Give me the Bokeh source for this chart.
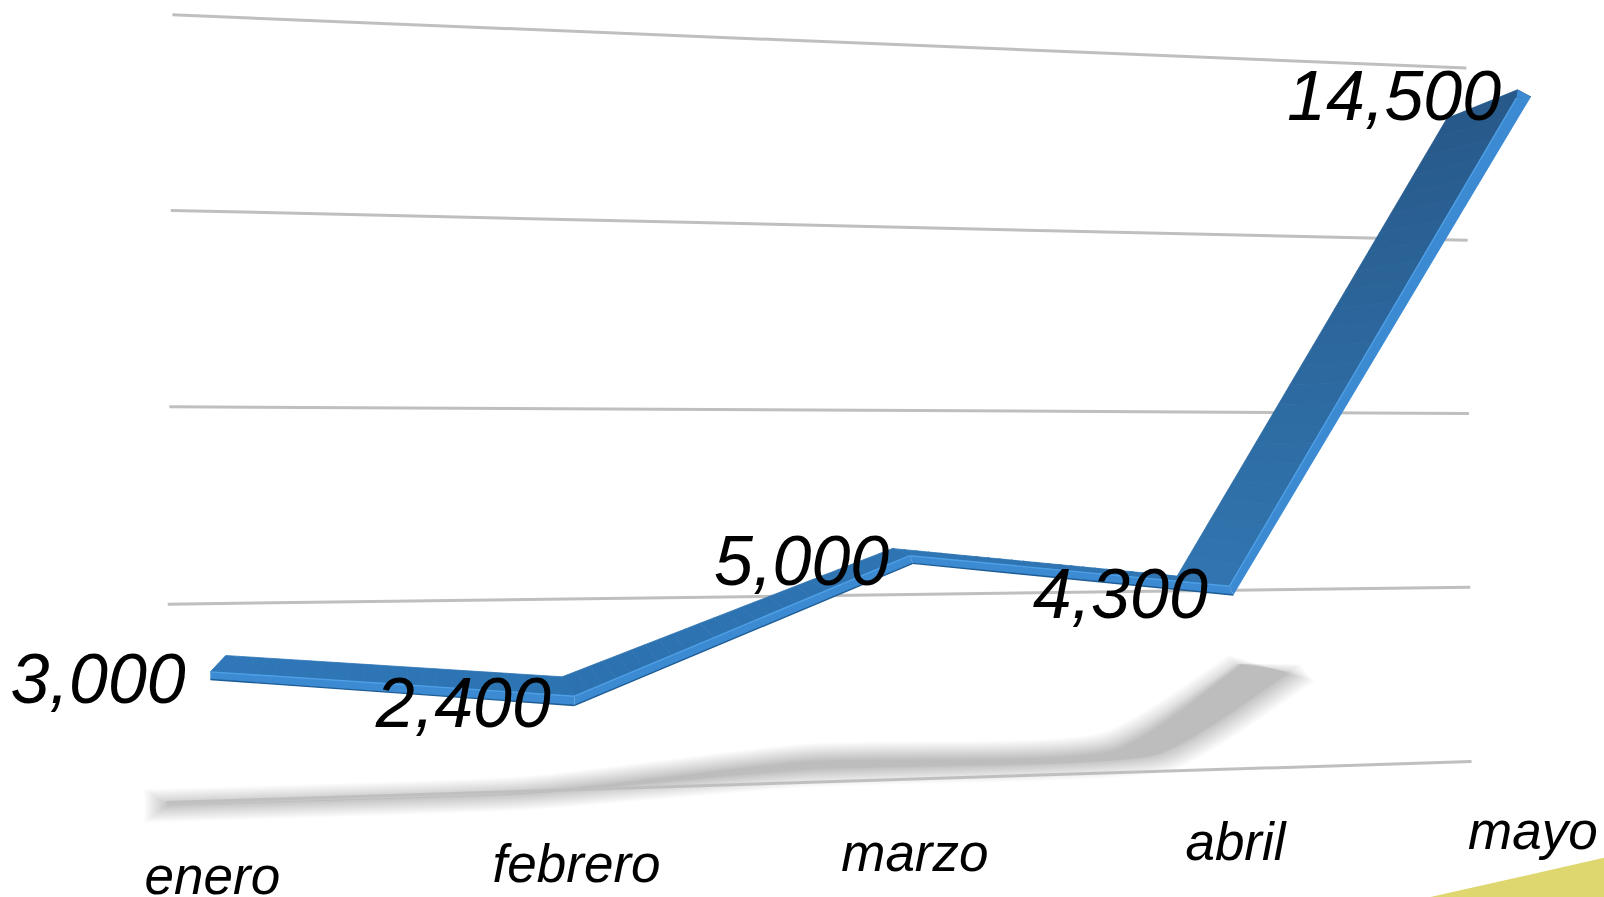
import numpy as np
from bokeh.plotting import figure
from bokeh.core.properties import value
from bokeh.embed import file_html
from bokeh.resources import INLINE

# ---- data ----
months = ["enero", "febrero", "marzo", "abril", "mayo"]
sales = [3000, 2400, 5000, 4300, 14500]
sales_labels = ["3,000", "2,400", "5,000", "4,300", "14,500"]
grid_values = [0, 4000, 8000, 12000, 16000]

# ---- camera: the corners of each perspective plane, in reference pixels (1568 wide) ----
S = 1604 / 1568
V_MAX = 16000.0


def homography(corners):
    # corners: image of (u,w) = (0,0), (1,0), (0,1), (1,1)
    src = [(0, 0), (1, 0), (0, 1), (1, 1)]
    A, b = [], []
    for (u, w), (x, y) in zip(src, corners):
        A.append([u, w, 1, 0, 0, 0, -u * x, -w * x]); b.append(x)
        A.append([0, 0, 0, u, w, 1, -u * y, -w * y]); b.append(y)
    h = np.linalg.solve(np.array(A, float), np.array(b, float))
    H = np.append(h, 1).reshape(3, 3)

    def f(u, w):
        q = H @ np.array([u, w, 1.0])
        return np.array([q[0] / q[2], q[1] / q[2]])
    return f


wall = homography([(162, 784), (1438, 744), (168, 14), (1433, 66)])
front = homography([(204, 818), (1501, 769), (210, -43), (1495.5, 25)])
floor = homography([(186, 803), (1432, 777), (-7.6, 657), (1238, 631)])

O = np.array([front(i / 4, v / V_MAX) for i, v in enumerate(sales)])
O = O + np.array([(0, 0), (-4.5, 0), (-8, 0), (-5, 0), (0, 0)], float)
F = np.array([floor(i / 4, v / V_MAX) for i, v in enumerate(sales)])

# ribbon extrusion, per month, relative to the front edge
back_off = np.array([(15, -15), (-12, -18), (-20, -5), (-55, -9), (-82, 21)], float)
inner_off = np.array([(0, 1), (0, 1), (-3, 2), (-4, 1), (-14, 1)], float)
bottom_off = np.array([(0, 8.5), (0, 10), (0, 9.5), (0, 9.5), (0, 0)], float)
tip_off = np.array([-13, -7], float)

BK, IN, BT = O + back_off, O + inner_off, O + bottom_off

p = figure(width=1604, height=897, x_range=(0, 1604), y_range=(897, 0),
           output_backend="svg", toolbar_location=None, min_border=0,
           outline_line_color=None, background_fill_color="white")
p.axis.visible = False
p.grid.visible = False
p.styles = {"position": "fixed", "left": "0px", "top": "0px"}


def poly(pts, color, alpha=1.0, seam=False):
    a = np.array(pts) * S
    p.patch(a[:, 0], a[:, 1], fill_color=color, fill_alpha=alpha,
            line_color=color if seam else None, line_width=0.8)


def mix(c1, c2, t):
    a = [int(c1[k:k + 2], 16) for k in (1, 3, 5)]
    b = [int(c2[k:k + 2], 16) for k in (1, 3, 5)]
    return "#%02x%02x%02x" % tuple(int(round(x + (y - x) * t)) for x, y in zip(a, b))


# ---- yellow corner ----
poly([(1395, 877), (1568, 838), (1568, 877)], "#ded66e")

# ---- soft floor shadow, stacked translucent layers ----
sh_shift = np.array([(3, 11), (42, 2), (41, 3), (37, 0), (-19, 4)], float)
C = F + sh_shift
up = np.array([(0, -7), (0, -8), (0, -14), (-20, -12), (-30, 0)], float)
lo = np.array([(0, 8), (0, 7), (0, 12), (35, 7), (41, 8)], float)


def rounded(a, r=28.0, n=3):
    # cut every inner corner at a fixed distance, then smooth the cuts
    pts = [a[0]]
    for k in range(1, len(a) - 1):
        d0 = a[k - 1] - a[k]; d1 = a[k + 1] - a[k]
        pts.append(a[k] + d0 / np.hypot(*d0) * min(r, np.hypot(*d0) * .45))
        pts.append(a[k] + d1 / np.hypot(*d1) * min(r, np.hypot(*d1) * .45))
    pts.append(a[-1])
    a = np.array(pts)
    for _ in range(n):
        q = a[:-1] * .75 + a[1:] * .25
        s = a[:-1] * .25 + a[1:] * .75
        a = np.vstack([a[:1], np.column_stack([q, s]).reshape(-1, 2), a[-1:]])
    return a


for e in np.linspace(9, -9, 22):
    u = up.copy(); l = lo.copy()
    u[:, 1] = np.minimum(u[:, 1] - e, -.5)
    l[:, 1] = np.maximum(l[:, 1] + e, .5)
    u[3:, 0] -= e * .8; l[3:, 0] += e * .8
    ue = rounded(C + u); le = rounded(C + l)
    ue[0, 0] -= e * 1.4; le[0, 0] -= e * 1.4
    poly(np.vstack([ue, le[::-1]]), "#000000", 0.0135)

# ---- gridlines ----
for g in grid_values:
    a = wall(0, g / V_MAX) * S
    b = wall(1, g / V_MAX) * S
    p.line([a[0], b[0]], [a[1], b[1]], line_color="#bfbfbf", line_width=3)

# ---- ribbon ----
seg_cols = [("#2f77b8", "#2c73b2"), ("#2d72b0", "#2e74b2"), ("#2e75b4", "#2c72b0"), ("#3175b0", "#27598a")]
N = 24
for s in range(4):
    for k in range(N):
        t0, t1 = k / N, (k + 1) / N
        col = mix(seg_cols[s][0], seg_cols[s][1], (t0 + t1) / 2)
        a0 = BK[s] + (BK[s + 1] - BK[s]) * t0
        a1 = BK[s] + (BK[s + 1] - BK[s]) * t1
        b0 = IN[s] + (IN[s + 1] - IN[s]) * t0
        b1 = IN[s] + (IN[s + 1] - IN[s]) * t1
        poly([a0, a1, b1, b0], col, seam=True)
poly([BK[4], O[4] + tip_off, O[4], IN[4]], "#27598a", seam=True)

for s in range(4):
    poly([IN[s], IN[s + 1], BT[s + 1], BT[s]], "#3b8ad2")
    h = np.array([IN[s], IN[s + 1]]) * S
    p.line(h[:, 0], h[:, 1], line_color="#4f9fe6", line_width=1.4)
    if s < 3:
        d = np.array([BT[s], BT[s + 1]]) * S
        p.line(d[:, 0], d[:, 1], line_color="#1f5c94", line_width=1.4)
poly([O[4] + tip_off, O[4], IN[4]], "#3b8ad2")

# ---- value labels ----
lx = (O[:, 0] + np.array([-24, -23, -23, -25, -29])) * S
ly = (O[:, 1] + np.array([7, 7, 7, 8, -1])) * S
p.text(lx, ly, text=sales_labels, text_font=value("Liberation Sans"), text_font_style="italic",
       text_font_size="70px", text_align="right", text_baseline="middle", text_color="#000000")

# ---- category labels ----
cx = (O[:, 0] + 2) * S
cy = np.array([855 - 11 * i for i in range(5)]) * S
p.text(cx, cy, text=months, text_font=value("Liberation Sans"), text_font_style="italic",
       text_font_size="53px", text_align="center", text_baseline="middle", text_color="#000000")

open("out.html", "w").write(file_html(p, INLINE))
